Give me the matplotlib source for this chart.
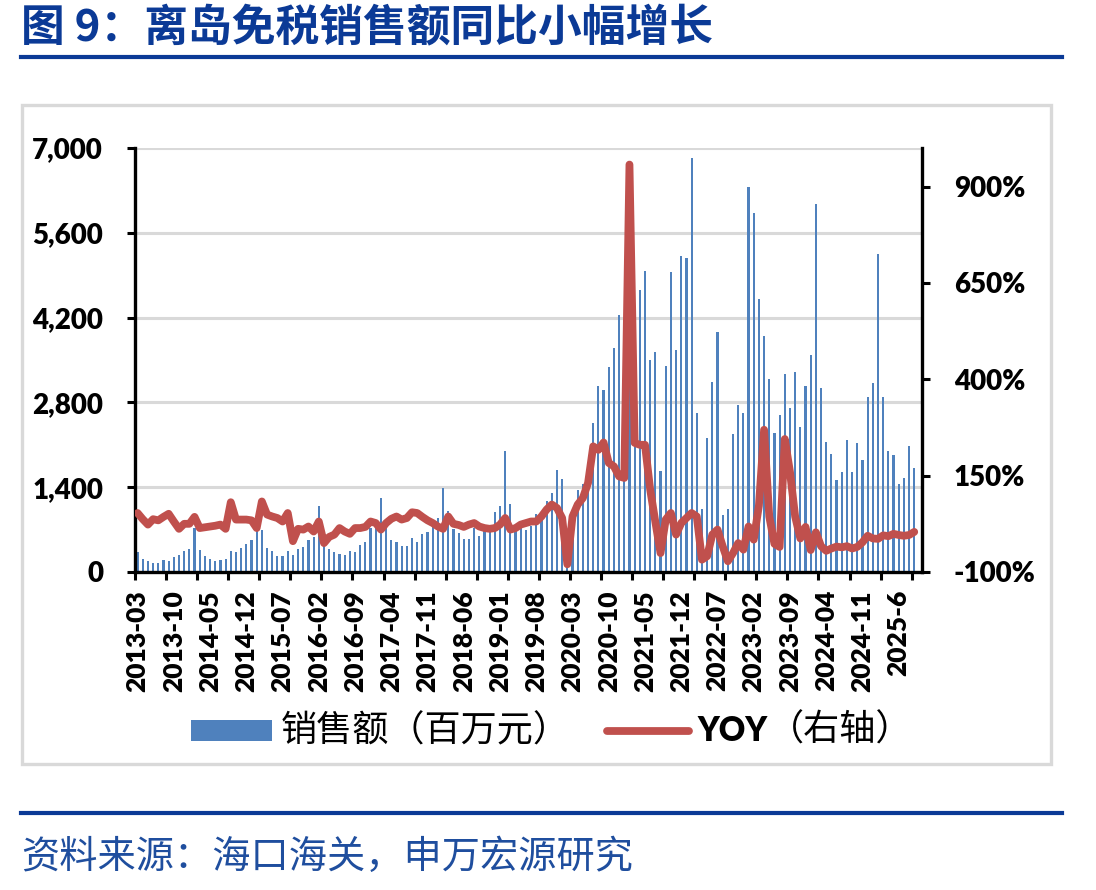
import matplotlib
matplotlib.use("Agg")
import matplotlib.pyplot as plt
from matplotlib.patches import Rectangle
from matplotlib.lines import Line2D
import numpy as np

plt.rcParams['font.family'] = ['Lato', 'Noto Sans CJK SC', 'DejaVu Sans']

# ---------------- data ----------------
# monthly, 2013-03 ... 2025-09
sales = [330, 220, 187, 148, 148, 203, 187, 247, 280, 340,
         379, 725, 357, 269, 220, 187, 203, 220, 340, 335,
         395, 461, 532, 697, 697, 395, 340, 269, 269, 351,
         275, 379, 412, 532, 576, 1092, 521, 379, 324, 302,
         285, 351, 324, 445, 494, 725, 725, 1219, 725, 532,
         500, 434, 434, 560, 494, 626, 659, 862, 889, 1383,
         999, 708, 642, 544, 549, 725, 598, 697, 725, 988,
         1093, 1998, 1120, 752, 752, 697, 752, 955, 972, 1175,
         1301, 1685, 1532, 420, 972, 1356, 1455, 1521, 2465, 3069,
         3003, 3382, 3695, 4238, 3700, 4450, 3300, 4650, 4963, 3508,
         3640, 1675, 3398, 4952, 3673, 5215, 5183, 6835, 2624, 1038,
         2212, 3129, 3958, 944, 1038, 2284, 2756, 2630, 6352, 5929,
         4513, 3892, 3179, 2289, 2591, 3261, 2701, 3294, 2399, 3074,
         3590, 6077, 3041, 2147, 1949, 1521, 1652, 2174, 1652, 2125,
         1850, 2893, 3113, 5254, 2882, 1998, 1932, 1455, 1548, 2081,
         1713]

yoy = [53, 37, 23, 37, 34, 43, 51, 31, 12, 25,
       25, 43, 14, 16, 18, 20, 23, 12, 81, 36,
       36, 36, 34, 14, 83, 49, 44, 40, 31, 53,
       -20, 12, 10, 18, 5, 31, -25, -9, -3, 14,
       5, -1, 14, 14, 17, 31, 27, 10, 27, 38,
       44, 36, 40, 55, 53, 43, 34, 27, 18, 12,
       44, 25, 22, 17, 23, 27, 18, 14, 12, 14,
       23, 40, 10, 14, 23, 27, 31, 31, 44, 62,
       75, 66, 40, -80, 44, 75, 92, 131, 226, 217,
       236, 183, 174, 148, 144, 957, 235, 230, 230, 114,
       30, -51, 36, 53, -3, 27, 40, 53, 44, -68,
       -59, -3, 10, -33, -72, -51, -25, -42, 18, -16,
       72, 269, 44, -27, -35, 245, 160, 44, -13, 17,
       -43, 3, -33, -45, -39, -34, -36, -33, -39, -35,
       -23, -6, -13, -14, -5, -7, -1, -4, -6, -4,
       4]

x_labels = ['2013-03', '2013-10', '2014-05', '2014-12', '2015-07', '2016-02',
            '2016-09', '2017-04', '2017-11', '2018-06', '2019-01', '2019-08',
            '2020-03', '2020-10', '2021-05', '2021-12', '2022-07', '2023-02',
            '2023-09', '2024-04', '2024-11', '2025-6']
left_ticks = [0, 1400, 2800, 4200, 5600, 7000]
right_ticks = [-100, 150, 400, 650, 900]

title = "图 9：离岛免税销售额同比小幅增长"
source = "资料来源：海口海关，申万宏源研究"
legend_bar = "销售额（百万元）"
legend_line_a = "YOY"
legend_line_b = "（右轴）"

BLUE_BAR = '#4F81BD'
RED = '#C0504D'
NAVY = '#0B3A96'
TICK_WEIGHT = 'heavy'

# ---------------- figure ----------------
W, H = 1096, 890
fig = plt.figure(figsize=(W / 100, H / 100), dpi=100)


def fx(px):
    return px / W


def fy(py):
    return 1 - py / H


ax = fig.add_axes([fx(135), fy(572), fx(922) - fx(135), fy(148) - fy(572)])
n = len(sales)
n_cat = n + 1
xs = np.arange(n)

ax.bar(xs, sales, width=0.42, color=BLUE_BAR, zorder=2)
ax.set_xlim(-0.5, n_cat - 0.5)
ax.set_ylim(0, 7000)
ax.set_yticks(left_ticks)
ax.set_yticklabels([f"{v:,}" for v in left_ticks])
ax.grid(axis='y', color='#D9D9D9', lw=2.2, zorder=0)
ax.set_axisbelow(True)

for s in ['top', 'right']:
    ax.spines[s].set_visible(False)
for s in ['left', 'bottom']:
    ax.spines[s].set_linewidth(2.4)
    ax.spines[s].set_color('black')

# x ticks: marks every 6 categories, labels every 7
ax.set_xticks(np.arange(-0.5, n_cat, 6))
ax.set_xticklabels([])
ax.tick_params(axis='x', which='major', direction='out', length=6, width=2.2, color='black')
ax.set_xticks(np.arange(0, 7 * len(x_labels), 7), minor=True)
ax.set_xticklabels(x_labels, minor=True, rotation=90, fontsize=19, fontweight=TICK_WEIGHT)
ax.tick_params(axis='x', which='minor', length=0, pad=13)
ax.tick_params(axis='y', direction='out', length=6, width=2.2, pad=17,
               labelsize=20)
for t in ax.get_yticklabels():
    t.set_fontweight(TICK_WEIGHT)

ax2 = ax.twinx()
ax2.plot(xs, yoy, color=RED, lw=5.6, solid_joinstyle='round',
         solid_capstyle='round', zorder=3)
ax2.set_ylim(-100, 1000)
ax2.set_yticks(right_ticks)
ax2.set_yticklabels([f"{v}%" for v in right_ticks])
ax2.tick_params(axis='y', direction='out', length=6, width=2.2, pad=17, labelsize=20)
for t in ax2.get_yticklabels():
    t.set_fontweight(TICK_WEIGHT)
for s in ['top', 'left', 'bottom']:
    ax2.spines[s].set_visible(False)
ax2.spines['right'].set_linewidth(2.4)
ax2.spines['right'].set_color('black')

# ---------------- decorations ----------------
fig.text(fx(21), fy(28), title, fontsize=31.5, fontweight='heavy', color=NAVY,
         va='center', ha='left', family=['Noto Sans CJK SC', 'DejaVu Sans'])
fig.add_artist(Line2D([fx(21), fx(1062)], [fy(57), fy(57)], lw=3, color=NAVY,
                      transform=fig.transFigure))
fig.add_artist(Line2D([fx(21), fx(1062)], [fy(813), fy(813)], lw=3, color=NAVY,
                      transform=fig.transFigure))
fig.add_artist(Rectangle((fx(22), fy(764)), fx(1051) - fx(22), fy(105) - fy(764),
                         fill=False, edgecolor='#D9D9D9', lw=2.4,
                         transform=fig.transFigure))

# legend
fig.add_artist(Rectangle((fx(191), fy(741)), fx(272) - fx(191), fy(720) - fy(741),
                         facecolor=BLUE_BAR, edgecolor='none',
                         transform=fig.transFigure))
fig.text(fx(281), fy(731), legend_bar, fontsize=26, va='center', ha='left',
         color='black', family=['Noto Sans CJK SC', 'DejaVu Sans'])
fig.add_artist(Line2D([fx(607), fx(689)], [fy(731), fy(731)], lw=5.6, color=RED,
                      solid_capstyle='round', transform=fig.transFigure))
t_yoy = fig.text(fx(697), fy(731), legend_line_a, fontsize=23.5, fontweight='heavy',
                 va='center', ha='left', color='black', family=['Lato', 'DejaVu Sans'])
renderer = fig.canvas.get_renderer()
bb = t_yoy.get_window_extent(renderer=renderer)
fig.text(bb.x1 / W + fx(1), fy(731), legend_line_b, fontsize=26, va='center', ha='left',
         color='black', family=['Noto Sans CJK SC', 'DejaVu Sans'])

fig.text(fx(21), fy(857), source, fontsize=27.5, color='#1F4E9E', va='center',
         ha='left', family=['Noto Sans CJK SC', 'DejaVu Sans'])

fig.savefig('out.png', dpi=100)
